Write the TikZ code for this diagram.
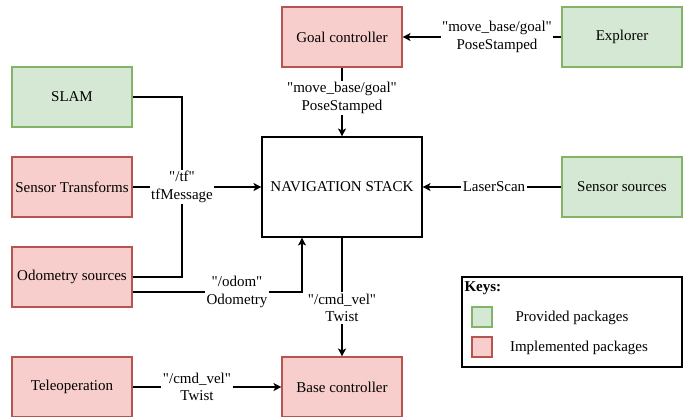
\documentclass[tikz,border=0pt]{standalone}
\usepackage{fontspec}
\setmainfont{Liberation Serif}[Ligatures=TeXOff]
\usetikzlibrary{arrows.meta}

\definecolor{provfill}{HTML}{D5E8D4}
\definecolor{provline}{HTML}{82B366}
\definecolor{implfill}{HTML}{F8CECC}
\definecolor{implline}{HTML}{B85450}

\tikzset{
  pkg/.style={draw, minimum width=120pt, minimum height=60pt, inner sep=0pt, align=center},
  provided/.style={pkg, draw=provline, fill=provfill},
  implemented/.style={pkg, draw=implline, fill=implfill},
  msg/.style={fill=white, inner sep=1pt, align=center},
  flow/.style={-{Stealth[length=8pt,width=8pt,inset=2pt]}},
}

\begin{document}
\begin{tikzpicture}[x=1pt,y=-1pt,line width=1.1pt,font=\fontsize{15}{17.5}\selectfont]
			\useasboundingbox (0,0) rectangle (686,416);
			% packages
			\node[provided] (slam) at (72,97) {SLAM};
			\node[implemented] (sensortf) at (72,187) {Sensor Transforms};
			\node[implemented] (odom) at (72,277) {Odometry sources};
			\node[implemented] (teleop) at (72,387) {Teleoperation};
			\node[implemented] (goal) at (342,37) {Goal controller};
			\node[provided] (explorer) at (622,37) {Explorer};
			\node[provided] (sensors) at (622,187) {Sensor sources};
			\node[implemented] (base) at (342,387) {Base controller};
			\node[draw, minimum width=160pt, minimum height=100pt] (nav) at (342,187) {NAVIGATION STACK};
			% messages
			\node[msg] (tf) at (182,187) {"/tf"\\tfMessage};
			\node[msg] (odommsg) at (237,292) {"/odom"\\Odometry};
			\node[msg] (goalmsg) at (342,98) {"move\_base/goal"\\PoseStamped};
			\node[msg] (exmsg) at (497,37) {"move\_base/goal"\\PoseStamped};
			\node[msg] (scan) at (494,187) {LaserScan};
			\node[msg] (velmsg) at (342,308) {"/cmd\_vel"\\Twist};
			\node[msg] (telemsg) at (197,387) {"/cmd\_vel"\\Twist};
			\draw (slam.east) -| (tf.north);
			\draw (odom.east) -| (tf.south);
			\draw (sensortf.east) -- (tf.west);
			\draw[flow] (tf.east) -- (nav.west);
			\draw ([yshift=-15pt]odom.east) -- (odommsg.west);
			\draw[flow] (odommsg.east) -| ([xshift=-40pt]nav.south);
			\draw (goal.south) -- (goalmsg.north);
			\draw[flow] (goalmsg.south) -- (nav.north);
			\draw (explorer.west) -- (exmsg.east);
			\draw[flow] (exmsg.west) -- (goal.east);
			\draw (sensors.west) -- (scan.east);
			\draw[flow] (scan.west) -- (nav.east);
			\draw (nav.south) -- (velmsg.north);
			\draw[flow] (velmsg.south) -- (base.north);
			\draw (teleop.east) -- (telemsg.west);
			\draw[flow] (telemsg.east) -- (base.west);
			% keys
			\node[draw, minimum width=220pt, minimum height=90pt] (keys) at (572,322) {};
			\node[anchor=west, inner sep=0pt] (keytitle) at (464,288) {\bfseries Keys:};
			\node[draw=provline, fill=provfill, minimum size=20pt, inner sep=0pt] (keyprov) at (482,317) {};
			\node (provtxt) at (572,318) {Provided packages};
			\node[draw=implline, fill=implfill, minimum size=20pt, inner sep=0pt] (keyimpl) at (482,347) {};
			\node (impltxt) at (579,348) {Implemented packages};
		\end{tikzpicture}
\end{document}
